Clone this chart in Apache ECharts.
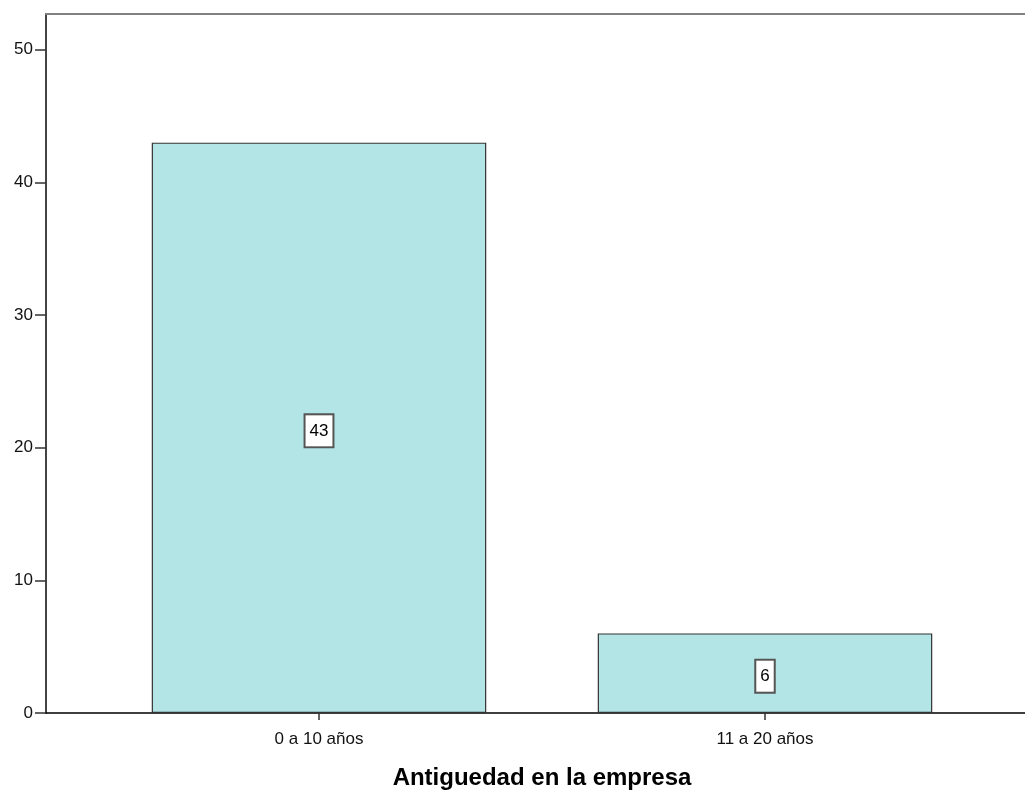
<!DOCTYPE html>
<html><head><meta charset="utf-8">
<script src="https://cdn.jsdelivr.net/npm/echarts@6/dist/echarts.min.js"></script>
<style>html,body{margin:0;padding:0;background:#fff}#c{width:1025px;height:792px}</style>
</head><body><div id="c"></div>
<script>
const categories = ['0 a 10 años', '11 a 20 años'];
const counts = [43, 6];
const yTicks = [0, 10, 20, 30, 40, 50];
const axisTitle = 'Antiguedad en la empresa';

const FONT = '"Liberation Sans", Arial, sans-serif';
const chart = echarts.init(document.getElementById('c'), null, {renderer: 'canvas'});
const Y_MAX = 52.7;
chart.setOption({
  animation: false,
  backgroundColor: '#fff',
  grid: [
    {left: 46, right: 0, top: 14, bottom: 79, containLabel: false, outerBoundsMode: 'none'},
    {left: 96, right: 37, top: 14, bottom: 79, containLabel: false, outerBoundsMode: 'none'}
  ],
  xAxis: [
    {gridIndex: 0, type: 'value', min: 0, max: 1, position: 'bottom',
     axisLine: {show: true, lineStyle: {color: '#000', width: 1.5}},
     axisTick: {show: false}, axisLabel: {show: false}, splitLine: {show: false}},
    {gridIndex: 0, type: 'value', min: 0, max: 1, position: 'top',
     axisLine: {show: true, lineStyle: {color: '#808080', width: 2}},
     axisTick: {show: false}, axisLabel: {show: false}, splitLine: {show: false}},
    {gridIndex: 1, type: 'category', data: categories,
     axisLine: {show: false},
     axisTick: {show: true, alignWithLabel: true, length: 7, lineStyle: {color: '#333', width: 1.5}},
     axisLabel: {fontFamily: FONT, fontSize: 17, color: '#111', margin: 18},
     name: axisTitle, nameLocation: 'middle', nameGap: 53,
     nameTextStyle: {fontFamily: FONT, fontSize: 24, fontWeight: 'bold', color: '#000'}}
  ],
  yAxis: [
    {gridIndex: 0, type: 'value', min: 0, max: Y_MAX, interval: 10,
     axisLine: {show: true, lineStyle: {color: '#444', width: 2}},
     axisTick: {show: true, length: 11, lineStyle: {color: '#333', width: 1.5}, customValues: yTicks},
     axisLabel: {fontFamily: FONT, fontSize: 17, color: '#111', margin: 13, padding: [4, 0, 0, 0], customValues: yTicks},
     splitLine: {show: false}},
    {gridIndex: 1, type: 'value', min: 0, max: Y_MAX, show: false}
  ],
  series: [{
    type: 'bar', xAxisIndex: 2, yAxisIndex: 1, data: counts, barWidth: '75%',
    itemStyle: {color: '#b3e5e6', borderColor: '#333', borderWidth: 1.2},
    label: {show: true, position: 'inside', fontFamily: FONT, fontSize: 17, lineHeight: 19, color: '#000',
      backgroundColor: '#fff', borderColor: '#555', borderWidth: 2, padding: [6, 4, 6, 4], offset: [0, 3]}
  }]
});
</script></body></html>
